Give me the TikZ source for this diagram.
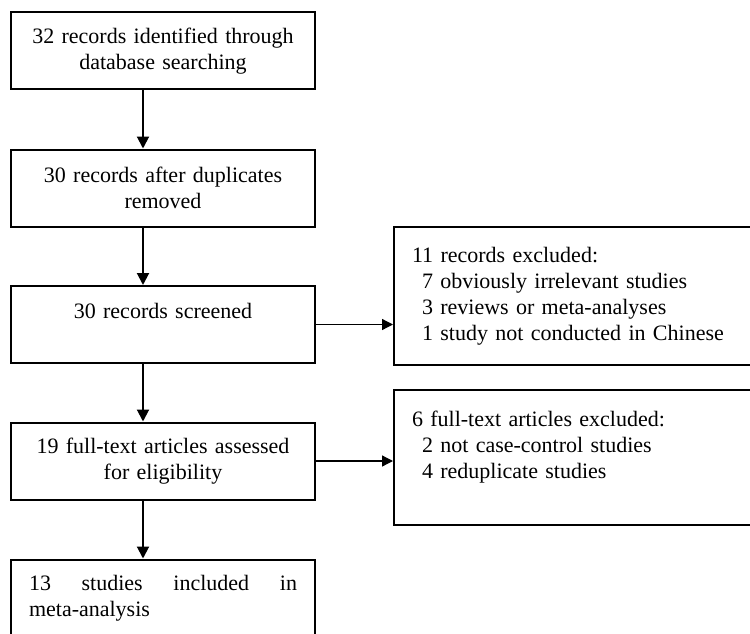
\documentclass[tikz,border=0pt]{standalone}
\usepackage{fontspec}
\setmainfont{Liberation Serif}
\usepackage{tikz}
\usetikzlibrary{arrows.meta}
\tikzset{every path/.append style={line width=2pt}}
\tikzset{
 leftbox/.style={draw, line width=2pt, text width=268pt, inner xsep=18pt, inner ysep=0pt,
   minimum height=77pt, align=center, font=\fontsize{22}{26.5}\selectfont},
 rightbox/.style={draw, line width=2pt, text width=334pt, inner xsep=18pt, inner ysep=0pt,
   align=left, font=\fontsize{22}{26}\selectfont},
 flowarrow/.style={line width=2pt, -{Triangle[length=12pt,width=12pt]}},
 sidearrow/.style={line width=1.3pt, -{Triangle[length=11pt,width=11pt]}}
}

\begin{document}
\begin{tikzpicture}[x=1pt,y=-1pt]
 \useasboundingbox (0,0) rectangle (750,634);
 \node[leftbox] (found) at (163,51) {32 records identified through\\database searching};
 \node[leftbox] (dedup) at (163,188) {30 records after duplicates\\removed};
 \node[leftbox] (screen) at (163,324.5) {30 records screened\\~};
 \node[leftbox] (assess) at (163,461) {19 full-text articles assessed\\for eligibility};
 \node[leftbox, align=justify] (incl) at (163,598) {13 studies included in \mbox{meta-analysis}};
 \node[rightbox, minimum height=137.5pt] (excl) at (579,296) {11 records excluded:\\
   \hspace*{10pt}7 obviously irrelevant studies\\
   \hspace*{10pt}3 reviews or meta-analyses\\
   \hspace*{10pt}1 study not conducted in Chinese};
 \node[rightbox, minimum height=135pt] (fullex) at (579,457.5) {6 full-text articles excluded:\\
   \hspace*{10pt}2 not case-control studies\\
   \hspace*{10pt}4 reduplicate studies\\~};
 \draw[flowarrow] ([xshift=-20pt]found.south) -- ([xshift=-20pt]dedup.north);
 \draw[flowarrow] ([xshift=-20pt]dedup.south) -- ([xshift=-20pt]screen.north);
 \draw[flowarrow] ([xshift=-20pt]screen.south) -- ([xshift=-20pt]assess.north);
 \draw[flowarrow] ([xshift=-20pt]assess.south) -- ([xshift=-20pt]incl.north);
 \draw[sidearrow] (screen.east) -- (screen.east -| excl.west);
 \draw[sidearrow] (assess.east) -- (assess.east -| fullex.west);
\end{tikzpicture}
\end{document}
